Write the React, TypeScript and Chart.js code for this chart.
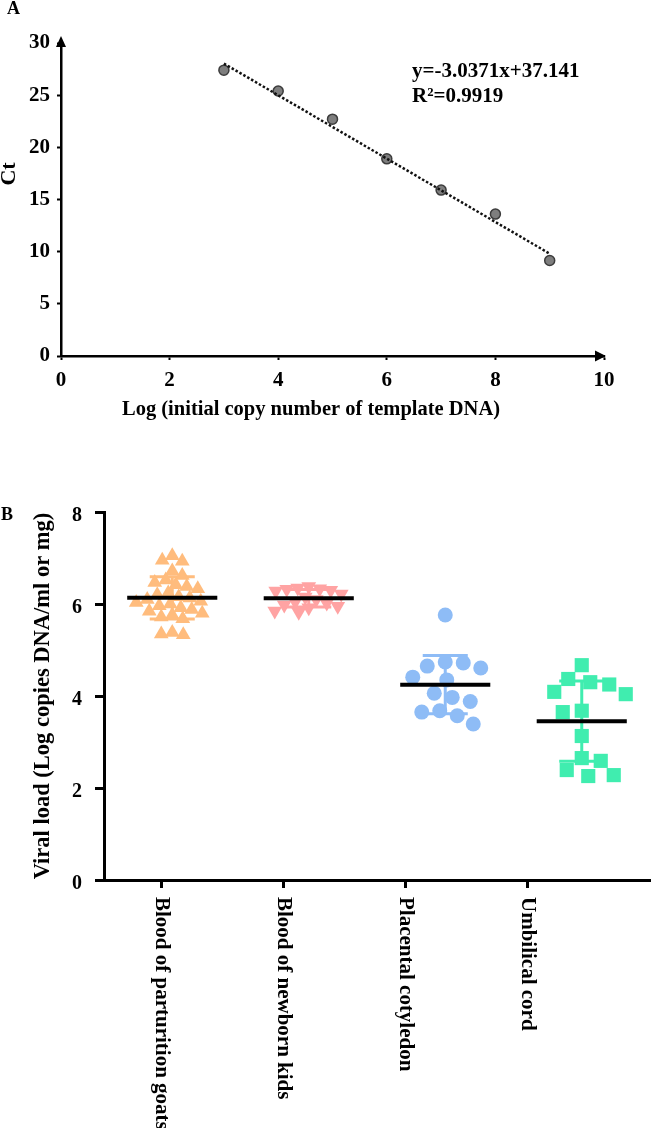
import { useEffect, useRef } from "react";
import { Chart, registerables } from "chart.js";

Chart.register(...registerables);

const SERIF = "'Liberation Serif', 'Times New Roman', Times, serif";

// ---- Panel A: qPCR standard curve ----
const logCopies = [3, 4, 5, 6, 7, 8, 9];
const ctValues = [27.4, 25.4, 22.7, 18.9, 15.9, 13.6, 9.15];
const slope = -3.0371;
const intercept = 37.141;
const rSquared = 0.9919;
const fitFrom = 3;
const fitTo = 9;

// ---- Panel B: viral load by sample type ----
const sampleTypes = [
  "Blood of parturition goats",
  "Blood of newborn kids",
  "Placental cotyledon",
  "Umbilical cord",
];
const parturitionGoats = [
  7.05, 6.95, 6.93, 6.72, 6.62, 6.52, 6.47, 6.42, 6.38, 6.33, 6.24, 6.2, 6.16,
  6.13, 6.1, 6.06, 6.03, 6.0, 5.96, 5.92, 5.88, 5.84, 5.8, 5.76, 5.72, 5.68,
  5.38, 5.35, 5.33,
];
const newbornKids = [
  6.38, 6.35, 6.33, 6.32, 6.3, 6.28, 6.22, 6.15, 6.1, 6.05, 6.02, 5.98, 5.95,
  5.92, 5.85, 5.82,
];
const placentalCotyledon = [
  5.76, 4.74, 4.72, 4.65, 4.61, 4.41, 4.35, 4.06, 3.97, 3.88, 3.68, 3.65, 3.57,
  3.39,
];
const umbilicalCord = [
  4.67, 4.37, 4.3, 4.25, 4.09, 4.04, 3.68, 3.65, 3.13, 2.65, 2.59, 2.39, 2.28,
  2.26,
];
const groupValues = [parturitionGoats, newbornKids, placentalCotyledon, umbilicalCord];
const groupColors = ["#FFBC7D", "#FFA3A3", "#8EBCF6", "#40EDAF"];
const viralTicks = [0, 2, 4, 6, 8];

const mean = (a: number[]) => a.reduce((s, v) => s + v, 0) / a.length;
const sd = (a: number[]) => {
  const m = mean(a);
  return Math.sqrt(a.reduce((s, v) => s + (v - m) ** 2, 0) / (a.length - 1));
};

const fitY = (x: number) => slope * x + intercept;

// spread points sideways so markers with close values do not pile up
function swarmOffsets(values: number[], pxPerY: number, minDist: number): number[] {
  const order = values.map((_, i) => i).sort((a, b) => values[b] - values[a]);
  const placed: { dx: number; py: number }[] = [];
  const out = new Array(values.length).fill(0);
  order.forEach((i, n) => {
    const py = values[i] * pxPerY;
    const sign = n % 2 === 0 ? 1 : -1;
    let chosen = 0;
    for (let k = 0; k < 400; k++) {
      const cands = k === 0 ? [0] : [sign * k * 0.5, -sign * k * 0.5];
      const hit = cands.find((dx) =>
        placed.every((p) => Math.hypot(p.dx - dx, p.py - py) >= minDist)
      );
      if (hit !== undefined) {
        chosen = hit;
        break;
      }
    }
    placed.push({ dx: chosen, py });
    out[i] = chosen;
  });
  return out;
}

const bold = (size: number) => `bold ${size}px ${SERIF}`;

const panelAText = {
  id: "panelAText",
  afterDraw(chart: any) {
    const { ctx, chartArea: ca } = chart;
    ctx.save();
    ctx.fillStyle = "#000";
    // axis arrows
    ctx.beginPath();
    ctx.moveTo(ca.right + 2, ca.bottom);
    ctx.lineTo(ca.right - 9, ca.bottom - 5.5);
    ctx.lineTo(ca.right - 9, ca.bottom + 5.5);
    ctx.closePath();
    ctx.fill();
    ctx.beginPath();
    ctx.moveTo(ca.left, ca.top - 7);
    ctx.lineTo(ca.left - 5, ca.top + 4);
    ctx.lineTo(ca.left + 5, ca.top + 4);
    ctx.closePath();
    ctx.fill();

    ctx.font = bold(18);
    ctx.textAlign = "left";
    ctx.textBaseline = "alphabetic";
    ctx.fillText("A", 7, 14);

    ctx.font = bold(21);
    ctx.fillText(`y=${slope}x+${intercept}`, ca.left + 351, ca.top + 34);
    ctx.fillText(`R\u00B2=${rSquared}`, ca.left + 351, ca.top + 59);

    ctx.font = bold(20.5);
    ctx.textAlign = "center";
    ctx.textBaseline = "middle";
    ctx.fillText("Log (initial copy number of template DNA)", 311, ca.bottom + 54);

    ctx.translate(9, 174);
    ctx.rotate(-Math.PI / 2);
    ctx.font = bold(22);
    ctx.fillText("Ct", 0, 0);
    ctx.restore();
  },
};

const MEAN_HALF = 0.33;
const CAP_HALF = 0.165;

const panelBSummary = {
  id: "panelBSummary",
  beforeDatasetsDraw(chart: any) {
    const { ctx } = chart;
    const xs = chart.scales.xd;
    const ys = chart.scales.y;
    ctx.save();
    ctx.lineWidth = 3;
    groupValues.forEach((vals, g) => {
      const m = mean(vals);
      const s = sd(vals);
      const cx = xs.getPixelForValue(g);
      const l = xs.getPixelForValue(g - CAP_HALF);
      const r = xs.getPixelForValue(g + CAP_HALF);
      const t = ys.getPixelForValue(m + s);
      const b = ys.getPixelForValue(m - s);
      ctx.strokeStyle = groupColors[g];
      ctx.beginPath();
      ctx.moveTo(cx, t);
      ctx.lineTo(cx, b);
      ctx.moveTo(l, t);
      ctx.lineTo(r, t);
      ctx.moveTo(l, b);
      ctx.lineTo(r, b);
      ctx.stroke();
    });
    ctx.restore();
  },
  afterDatasetsDraw(chart: any) {
    const { ctx } = chart;
    const xs = chart.scales.xd;
    const ys = chart.scales.y;
    ctx.save();
    ctx.lineWidth = 4;
    ctx.strokeStyle = "#000";
    groupValues.forEach((vals, g) => {
      const y = ys.getPixelForValue(mean(vals));
      ctx.beginPath();
      ctx.moveTo(xs.getPixelForValue(g - MEAN_HALF), y);
      ctx.lineTo(xs.getPixelForValue(g + MEAN_HALF), y);
      ctx.stroke();
    });
    ctx.restore();
  },
  afterDraw(chart: any) {
    const { ctx, chartArea: ca } = chart;
    const xl = chart.scales.x;
    ctx.save();
    ctx.fillStyle = "#000";
    ctx.font = bold(18);
    ctx.textAlign = "left";
    ctx.textBaseline = "alphabetic";
    ctx.fillText("B", 1, 50);

    ctx.font = bold(21);
    ctx.textBaseline = "middle";
    sampleTypes.forEach((label, i) => {
      ctx.save();
      ctx.translate(xl.getPixelForValue(i), ca.bottom + 17);
      ctx.rotate(Math.PI / 2);
      ctx.fillText(label, 0, 0);
      ctx.restore();
    });

    ctx.font = bold(22.5);
    ctx.textAlign = "center";
    ctx.translate(ca.left - 61, (ca.top + ca.bottom) / 2);
    ctx.rotate(-Math.PI / 2);
    ctx.fillText("Viral load (Log copies DNA/ml or mg)", 0, 0);
    ctx.restore();
  },
};

export default function App() {
  const refA = useRef<HTMLCanvasElement>(null);
  const refB = useRef<HTMLCanvasElement>(null);

  useEffect(() => {
    const tickFontA = { family: SERIF, size: 21, weight: "bold" as const };

    const chartA = new Chart(refA.current!, {
      type: "scatter",
      data: {
        datasets: [
          {
            type: "scatter",
            data: logCopies.map((x, i) => ({ x, y: ctValues[i] })),
            pointRadius: 5,
            pointBackgroundColor: "#7e7e7e",
            pointBorderColor: "#3c3c3c",
            pointBorderWidth: 1.5,
            order: 2,
          },
          {
            type: "line",
            data: [
              { x: fitFrom, y: fitY(fitFrom) },
              { x: fitTo, y: fitY(fitTo) },
            ],
            borderColor: "#111",
            borderWidth: 2.5,
            borderDash: [2.5, 2],
            pointRadius: 0,
            showLine: true,
            order: 1,
          } as any,
        ],
      },
      options: {
        responsive: false,
        animation: false,
        layout: { padding: { top: 43, right: 56, left: 0, bottom: 0 } },
        plugins: { legend: { display: false }, tooltip: { enabled: false } },
        scales: {
          x: {
            type: "linear",
            min: 0,
            max: 10,
            ticks: { stepSize: 2, font: tickFontA, color: "#000", padding: 8 },
            grid: { drawOnChartArea: false, tickLength: 4, tickWidth: 2, tickColor: "#000" },
            border: { color: "#000", width: 2.5 },
            afterFit: (s: any) => {
              s.height = 84;
            },
          },
          y: {
            type: "linear",
            min: 0,
            max: 30,
            ticks: { stepSize: 5, font: tickFontA, color: "#000", padding: 7 },
            grid: { drawOnChartArea: false, tickLength: 4, tickWidth: 2, tickColor: "#000" },
            border: { color: "#000", width: 2.5 },
            afterFit: (s: any) => {
              s.width = 61;
            },
          },
        },
      },
      plugins: [panelAText],
    });

    const markerStyles = [
      { pointStyle: "triangle", radius: 8.5, rotation: 0, minDist: 11 },
      { pointStyle: "triangle", radius: 8.5, rotation: 180, minDist: 11 },
      { pointStyle: "circle", radius: 7.5, rotation: 0, minDist: 18 },
      { pointStyle: "rect", radius: 10, rotation: 0, minDist: 19 },
    ];

    const chartB = new Chart(refB.current!, {
      type: "scatter",
      data: {
        datasets: groupValues.map((vals, g) => ({
          label: sampleTypes[g],
          data: vals.map((v) => ({ x: g, y: v })),
          xAxisID: "xd",
          yAxisID: "y",
          pointStyle: markerStyles[g].pointStyle as any,
          pointRadius: markerStyles[g].radius,
          pointRotation: markerStyles[g].rotation,
          pointBackgroundColor: groupColors[g],
          pointBorderWidth: 0,
          pointBorderColor: groupColors[g],
        })),
      },
      options: {
        responsive: false,
        animation: false,
        layout: { padding: { top: 42, right: 2, left: 0, bottom: 0 } },
        plugins: { legend: { display: false }, tooltip: { enabled: false } },
        scales: {
          xd: { type: "linear", display: false, min: -0.5, max: 3.5 },
          x: {
            type: "linear",
            position: "bottom",
            min: -0.47,
            max: 4,
            afterBuildTicks: (s: any) => {
              s.ticks = sampleTypes.map((_, i) => ({ value: i }));
            },
            ticks: { display: false },
            grid: { drawOnChartArea: false, tickLength: 8, tickWidth: 3, tickColor: "#000" },
            border: { color: "#000", width: 3 },
            afterFit: (s: any) => {
              s.height = 248;
            },
          },
          y: {
            type: "linear",
            min: 0,
            max: 8,
            afterBuildTicks: (s: any) => {
              s.ticks = viralTicks.map((v) => ({ value: v }));
            },
            ticks: {
              font: { family: SERIF, size: 20, weight: "bold" },
              color: "#000",
              padding: 13,
              labelOffset: 4,
            },
            grid: { drawOnChartArea: false, tickLength: 9, tickWidth: 3, tickColor: "#000" },
            border: { color: "#000", width: 3 },
            afterFit: (s: any) => {
              s.width = 104;
            },
          },
        },
      },
      plugins: [panelBSummary],
    });

    // lay markers out side by side using the chart's own pixel scales
    const xs = chartB.scales.xd;
    const ys = chartB.scales.y;
    const pxPerX = xs.getPixelForValue(1) - xs.getPixelForValue(0);
    const pxPerY = Math.abs(ys.getPixelForValue(1) - ys.getPixelForValue(0));
    groupValues.forEach((vals, g) => {
      const offs = swarmOffsets(vals, pxPerY, markerStyles[g].minDist);
      chartB.data.datasets[g].data = vals.map((v, i) => ({ x: g + offs[i] / pxPerX, y: v }));
    });
    chartB.update();

    return () => {
      chartA.destroy();
      chartB.destroy();
    };
  }, []);

  return (
    <div style={{ position: "absolute", left: 0, top: 0, width: 660, height: 1128, background: "#fff" }}>
      <canvas
        ref={refA}
        width={660}
        height={440}
        style={{ position: "absolute", left: 0, top: 0, width: 660, height: 440 }}
      />
      <canvas
        ref={refB}
        width={660}
        height={658}
        style={{ position: "absolute", left: 0, top: 470, width: 660, height: 658 }}
      />
    </div>
  );
}
